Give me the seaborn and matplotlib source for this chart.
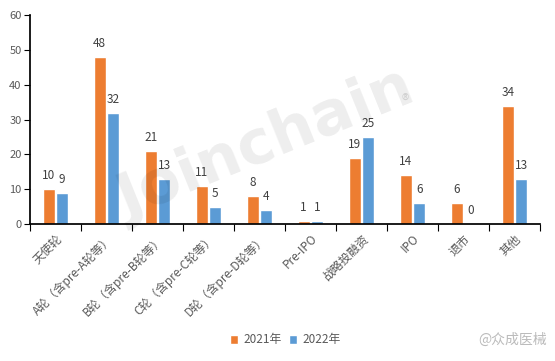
import pandas as pd
import numpy as np
import matplotlib
matplotlib.use("Agg")
import matplotlib.pyplot as plt
import seaborn as sns

categories = ["天使轮", "A轮（含pre-A轮等）", "B轮（含pre-B轮等）", "C轮（含pre-C轮等）",
              "D轮（含pre-D轮等）", "Pre-IPO", "战略投融资", "IPO", "退市", "其他"]
v2021 = [10, 48, 21, 11, 8, 1, 19, 14, 6, 34]
v2022 = [9, 32, 13, 5, 4, 1, 25, 6, 0, 13]
years = ["2021年", "2022年"]

df = pd.DataFrame({
    "cat": categories * 2,
    "year": [years[0]] * len(categories) + [years[1]] * len(categories),
    "n": v2021 + v2022,
})

sns.set_theme(style="white")
plt.rcParams["font.family"] = ["Noto Sans CJK SC", "DejaVu Sans"]

fig = plt.figure(figsize=(5.55, 3.61), dpi=100)
ax = fig.add_axes([0.054, 0.3795, 0.919, 0.5785])

sns.barplot(data=df, x="cat", y="n", hue="year", palette=["#ED7D31", "#5B9BD5"],
            saturation=1, width=0.53, gap=0.1, ax=ax, legend=True)

for c in ax.containers:
    ax.bar_label(c, padding=5, fontsize=8.5, color="#404040")

ax.set_ylim(0, 60)
ax.set_xlim(-0.5, len(categories) - 0.5)
ax.set_yticks(range(0, 61, 10))
ax.set_xlabel("")
ax.set_ylabel("")
for s in ["top", "right"]:
    ax.spines[s].set_visible(False)
ax.spines["left"].set_color("black")
ax.spines["bottom"].set_color("black")
ax.tick_params(axis="y", left=True, length=4, width=0.8, color="black", labelsize=8,
               labelcolor="#595959", pad=2)
ax.set_xticks(range(len(categories)))
ax.set_xticklabels(categories, rotation=45, ha="right", rotation_mode="anchor",
                   fontsize=8.5, color="#595959")
ax.tick_params(axis="x", which="major", length=0, pad=6)
ax.set_xticks(np.arange(-0.5, len(categories), 1), minor=True)
ax.tick_params(axis="x", which="minor", bottom=True, length=5, width=0.8, color="black")

leg = ax.legend(loc="center", bbox_to_anchor=(0.5, -0.555), ncol=2, frameon=False,
                fontsize=8.5, handlelength=0.75, handleheight=0.75, handletextpad=0.4,
                columnspacing=0.6)
for t in leg.get_texts():
    t.set_color("#595959")

fig.text(0.48, 0.6, "Joinchain", fontsize=44, fontweight="bold", color="#000000",
         alpha=0.07, rotation=22, ha="center", va="center", family="DejaVu Sans")
fig.text(0.73, 0.72, "®", fontsize=11, color="#000000", alpha=0.12, ha="center", va="center")
fig.text(0.985, 0.058, "@众成医械", fontsize=10, color="#bbbbbb", ha="right", va="center")

fig.savefig("out.png", dpi=100)
